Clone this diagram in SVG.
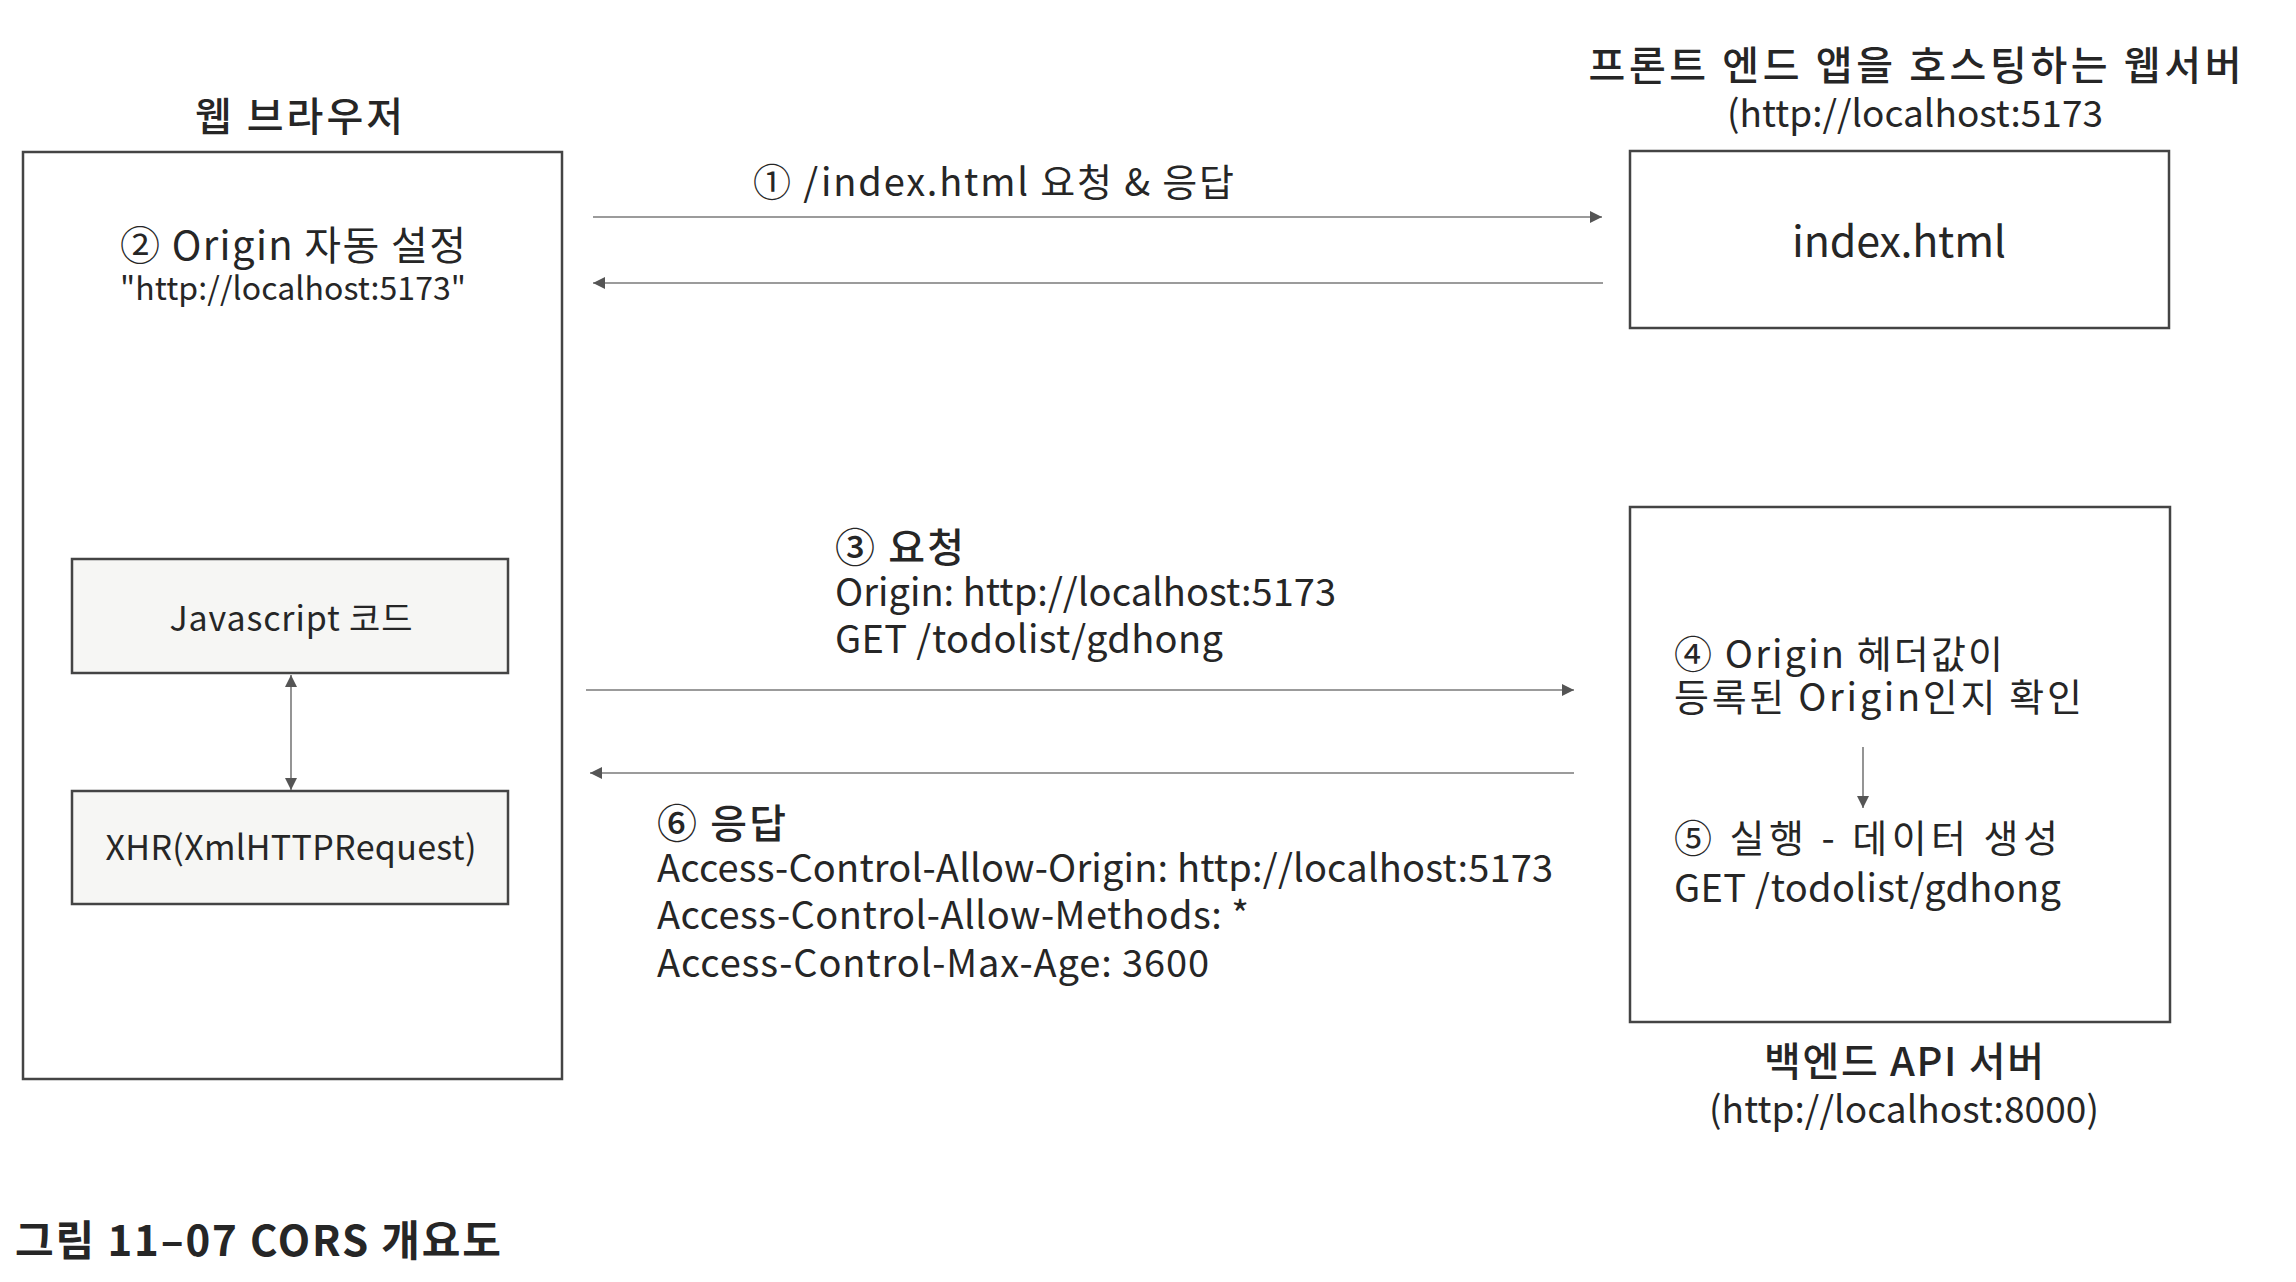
<svg xmlns="http://www.w3.org/2000/svg" width="2296" height="1282" viewBox="0 0 2296 1282">
<style>
text{font-family:"Noto Sans CJK KR","Noto Sans",sans-serif;fill:#262626;}
.t36{font-size:36px;}
.t38{font-size:38px;}
.t40{font-size:40px;}
.t34{font-size:34px;}
.t32{font-size:32px;}
.b{font-weight:500;}
.c{text-anchor:middle;}
.box{fill:#ffffff;stroke:#444;stroke-width:2.5;}
.ibox{fill:#f6f6f4;stroke:#444;stroke-width:2.5;}
.ln{stroke:#7a7a7a;stroke-width:1.6;fill:none;}
</style>
<defs>
<marker id="ah" viewBox="0 0 10 10" refX="10" refY="5" markerWidth="15" markerHeight="12" markerUnits="userSpaceOnUse" orient="auto-start-reverse">
<path d="M0,0 L10,5 L0,10 Z" fill="#555"/>
</marker>
</defs>
<rect width="2296" height="1282" fill="#ffffff"/>

<g id="browser">
<text class="b c t40" x="299" y="131" textLength="208">웹 브라우저</text>
<rect class="box" x="23" y="152" width="539" height="927"/>
<text class="t40 c" x="293" y="260" textLength="346">② Origin 자동 설정</text>
<text class="t32 c" x="293" y="300" textLength="346">"http://localhost:5173"</text>
</g>

<g id="js">
<rect class="ibox" x="72" y="559" width="436" height="114"/>
<text class="t34 c" x="291" y="631" textLength="243">Javascript 코드</text>
</g>

<g id="xhr">
<rect class="ibox" x="72" y="791" width="436" height="113"/>
<text class="t34 c" x="291" y="860" textLength="371">XHR(XmlHTTPRequest)</text>
</g>

<g id="frontend">
<text class="t40 b c" x="1915" y="80" textLength="653">프론트 엔드 앱을  호스팅하는 웹서버</text>
<text class="c" x="1915" y="127" font-size="37" textLength="376">(http://localhost:5173</text>
<rect class="box" x="1630" y="151" width="539" height="177"/>
<text class="c" x="1899" y="257" font-size="43" textLength="214">index.html</text>
</g>

<g id="backend">
<rect class="box" x="1630" y="507" width="540" height="515"/>
<text class="t38" x="1674" y="668" textLength="329">④ Origin 헤더값이</text>
<text class="t38" x="1674" y="711" textLength="408">등록된 Origin인지 확인</text>
<text class="t38" x="1674" y="852" textLength="384">⑤ 실행 - 데이터 생성</text>
<text class="t38" x="1674" y="902" textLength="387">GET /todolist/gdhong</text>
<text class="t40 b c" x="1904" y="1076" textLength="280">백엔드 API 서버</text>
<text class="c" x="1904" y="1123" font-size="37" textLength="390">(http://localhost:8000)</text>
</g>

<g id="labels">
<text class="t38" x="753" y="196" textLength="481">① /index.html 요청 &amp; 응답</text>
<text class="t40 b" x="835" y="562" textLength="129">③ 요청</text>
<text class="t38" x="835" y="606" textLength="501">Origin: http://localhost:5173</text>
<text class="t38" x="835" y="653" textLength="388">GET /todolist/gdhong</text>
<text class="t40 b" x="657" y="838" textLength="129">⑥ 응답</text>
<text class="t38" x="657" y="882" textLength="896">Access-Control-Allow-Origin: http://localhost:5173</text>
<text class="t38" x="657" y="929" textLength="592">Access-Control-Allow-Methods: *</text>
<text class="t38" x="657" y="977" textLength="552">Access-Control-Max-Age: 3600</text>
</g>

<g id="connectors">
<line class="ln" x1="593" y1="217" x2="1602" y2="217" marker-end="url(#ah)"/>
<line class="ln" x1="1603" y1="283" x2="593" y2="283" marker-end="url(#ah)"/>
<line class="ln" x1="586" y1="690" x2="1574" y2="690" marker-end="url(#ah)"/>
<line class="ln" x1="1574" y1="773" x2="590" y2="773" marker-end="url(#ah)"/>
<line class="ln" x1="291" y1="675" x2="291" y2="790" marker-start="url(#ah)" marker-end="url(#ah)"/>
<line class="ln" x1="1863" y1="747" x2="1863" y2="808" marker-end="url(#ah)"/>
</g>

<g id="caption">
<text x="15" y="1256" font-size="42" font-weight="700" textLength="486">그림 11–07 CORS 개요도</text>
</g>
</svg>
